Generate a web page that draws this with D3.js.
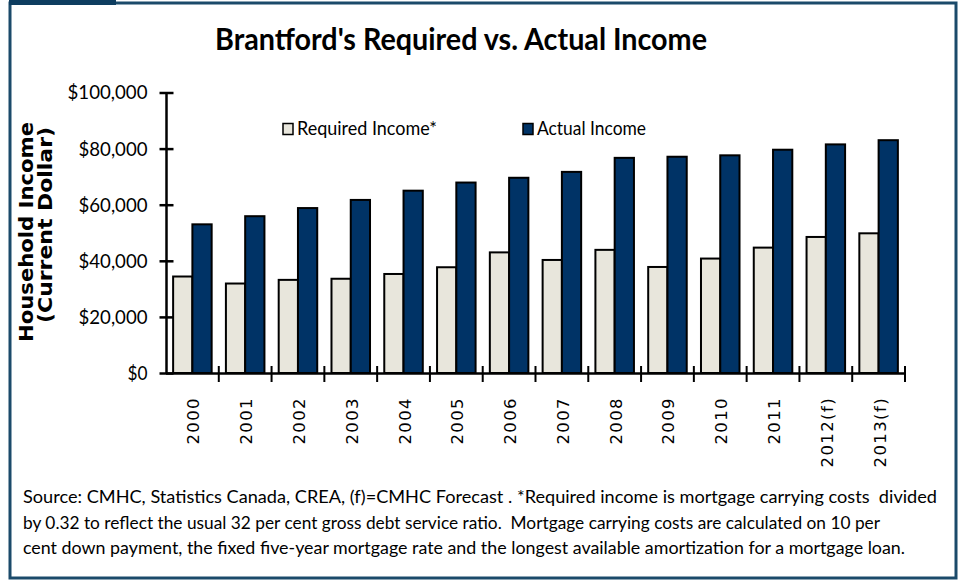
<!DOCTYPE html>
<html>
<head>
<meta charset="utf-8">
<script src="https://cdn.jsdelivr.net/npm/d3@7"></script>
<style>
  body{margin:0;background:#fff;}
  svg{display:block;}
</style>
</head>
<body>
<svg width="959" height="581"></svg>
<script>
const years=['2000','2001','2002','2003','2004','2005','2006','2007','2008','2009','2010','2011','2012(f)','2013(f)'];
const required=[34400,31900,33200,33600,35300,37700,43000,40300,43900,37800,40800,44700,48500,49800];
const actual=[53000,55900,58800,61700,65000,67900,69600,71700,76700,77100,77600,79600,81500,83000];
const series=['Required Income*','Actual Income'];
const yTicks=[0,20000,40000,60000,80000,100000];
const sourceLines=[
 'Source: CMHC, Statistics Canada, CREA, (f)=CMHC Forecast . *Required income is mortgage carrying costs  divided',
 'by 0.32 to reflect the usual 32 per cent gross debt service ratio.  Mortgage carrying costs are calculated on 10 per',
 'cent down payment, the fixed five-year mortgage rate and the longest available amortization for a mortgage loan.'
];

const svg=d3.select('svg');
const gill="Lato, 'Open Sans', sans-serif";
const colors={'Required Income*':'#e8e6dc','Actual Income':'#003366'};

// frame
svg.append('rect').attr('x',10).attr('y',3).attr('width',946).attr('height',575)
  .attr('fill','none').attr('stroke','#1b4a6a').attr('stroke-width',3);
svg.append('rect').attr('x',9).attr('y',0).attr('width',107).attr('height',5).attr('fill','#0e3d60');

// title
svg.append('text').attr('x',461).attr('y',50).attr('text-anchor','middle')
  .attr('textLength',492).attr('lengthAdjust','spacingAndGlyphs')
  .style('font',`bold 31px ${gill}`).attr('fill','#000')
  .text("Brantford's Required vs. Actual Income");

const x0=d3.scaleBand().domain(years).range([166,905]);
const x1=d3.scaleBand().domain(series).range([0,x0.bandwidth()]).paddingOuter(0.37);
const y=d3.scaleLinear().domain([0,100000]).range([373,92.5]);

// bars
const grp=svg.selectAll('g.yr').data(years).enter().append('g')
  .attr('class','yr').attr('transform',d=>`translate(${x0(d)},0)`);
grp.selectAll('rect').data((d,i)=>[{k:series[0],v:required[i]},{k:series[1],v:actual[i]}])
  .enter().append('rect')
  .attr('x',d=>x1(d.k)).attr('width',x1.bandwidth())
  .attr('y',d=>y(d.v)).attr('height',d=>y(0)-y(d.v))
  .attr('fill',d=>colors[d.k]).attr('stroke','#000').attr('stroke-width',2);

// y axis
const yAxis=svg.append('g').attr('transform','translate(166.5,0)')
  .call(d3.axisLeft(y).tickValues(yTicks).tickFormat(d=>'$'+d3.format(',')(d)).tickSize(7).tickPadding(12));
yAxis.select('.domain').attr('d',`M0,${y(100000)}V${y(0)}`).attr('stroke-width',2.5);
yAxis.selectAll('.tick line').attr('x1',-7).attr('x2',7).attr('stroke-width',2.5);
yAxis.selectAll('.tick text').style('font',`20px ${gill}`).attr('fill','#000')
  .attr('textLength',d=>d===100000?80:d===0?20:69).attr('lengthAdjust','spacingAndGlyphs');

// x axis
svg.append('line').attr('x1',166).attr('x2',906).attr('y1',373.5).attr('y2',373.5)
  .attr('stroke','#000').attr('stroke-width',2.5);
svg.selectAll('line.xt').data(years.slice(1).concat(['end'])).enter().append('line')
  .attr('class','xt')
  .attr('x1',d=>d==='end'?x0.range()[1]:x0(d)).attr('x2',d=>d==='end'?x0.range()[1]:x0(d))
  .attr('y1',366).attr('y2',382).attr('stroke','#000').attr('stroke-width',2);
svg.selectAll('text.xl').data(years).enter().append('text')
  .attr('class','xl')
  .attr('transform',d=>`translate(${x0(d)+x0.bandwidth()/2+7},397) rotate(-90)`)
  .attr('text-anchor','end')
  .style('font',"16.5px 'DejaVu Sans', sans-serif").style('letter-spacing','1.4px')
  .text(d=>d);

// y axis title
[['Household Income',33,232,220],['(Current Dollar)',52,225,196]].forEach(([t,xx,yy,len])=>{
  svg.append('text').attr('transform',`translate(${xx},${yy}) rotate(-90)`)
    .attr('text-anchor','middle').attr('textLength',len).attr('lengthAdjust','spacingAndGlyphs')
    .style('font',"bold 19.5px 'DejaVu Sans', sans-serif").text(t);
});

// legend
const leg=[{k:series[0],x:283,len:140},{k:series[1],x:523,len:109}];
leg.forEach(l=>{
  svg.append('rect').attr('x',l.x).attr('y',123.5).attr('width',10).attr('height',11)
    .attr('fill',colors[l.k]).attr('stroke','#000').attr('stroke-width',1.5);
  svg.append('text').attr('x',l.x+14).attr('y',135).attr('textLength',l.len)
    .attr('lengthAdjust','spacingAndGlyphs').style('font',`20px ${gill}`).text(l.k);
});

// source note
const lens=[914,857,882];
svg.selectAll('text.src').data(sourceLines).enter().append('text')
  .attr('class','src').attr('x',23).attr('y',(d,i)=>503+i*25.5)
  .attr('xml:space','preserve').attr('textLength',(d,i)=>lens[i]).attr('lengthAdjust','spacingAndGlyphs')
  .style('font',`18px ${gill}`).text(d=>d);
</script>
</body>
</html>
